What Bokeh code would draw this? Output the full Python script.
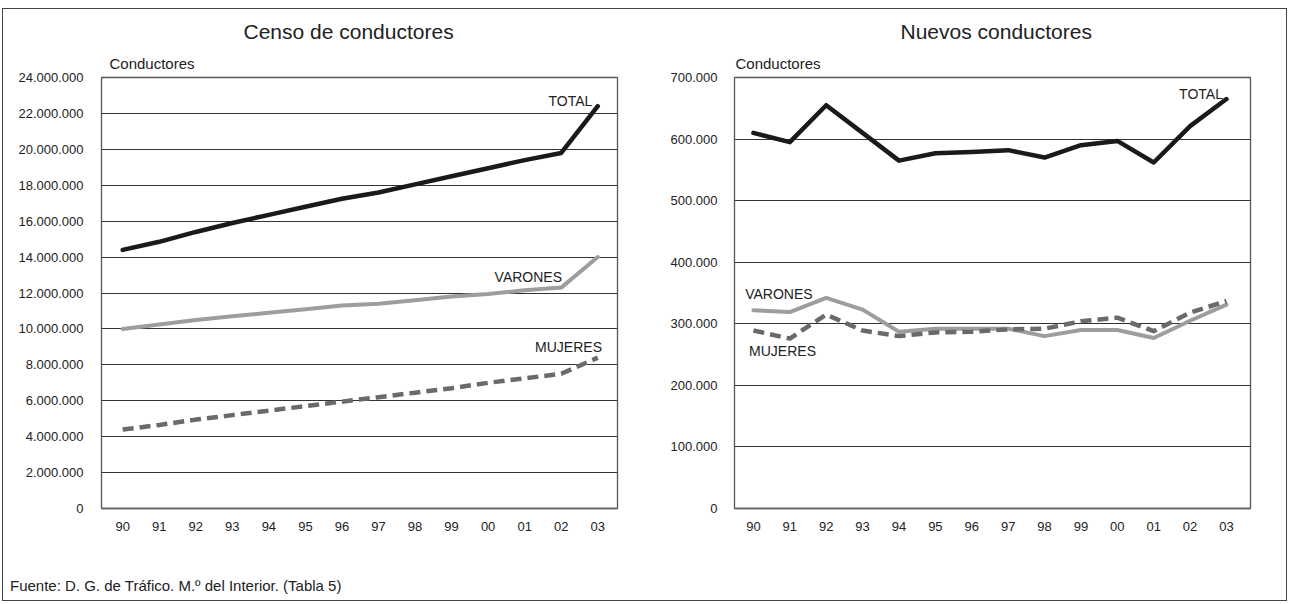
from bokeh.plotting import figure
from bokeh.models import FixedTicker, Title, Label, Div, Range1d
from bokeh.layouts import row, column
from bokeh.embed import file_html
from bokeh.resources import INLINE

years = ["90", "91", "92", "93", "94", "95", "96", "97", "98", "99", "00", "01", "02", "03"]

censo_total = [14400000, 14850000, 15400000, 15900000, 16350000, 16800000, 17250000,
               17600000, 18050000, 18500000, 18950000, 19400000, 19800000, 22400000]
censo_varones = [10000000, 10250000, 10500000, 10700000, 10900000, 11100000, 11300000,
                 11400000, 11600000, 11800000, 11950000, 12150000, 12300000, 14000000]
censo_mujeres = [4400000, 4650000, 4950000, 5200000, 5450000, 5700000, 5950000,
                 6200000, 6450000, 6700000, 7000000, 7250000, 7500000, 8400000]

nuevos_total = [610000, 595000, 655000, 610000, 565000, 577000, 579000,
                582000, 570000, 590000, 597000, 562000, 621000, 665000]
nuevos_varones = [322000, 319000, 342000, 323000, 287000, 292000, 292000,
                  292000, 280000, 290000, 290000, 277000, 305000, 331000]
nuevos_mujeres = [289000, 276000, 315000, 289000, 280000, 286000, 287000,
                  291000, 292000, 304000, 310000, 288000, 318000, 337000]

censo_ticks = [0, 2000000, 4000000, 6000000, 8000000, 10000000, 12000000,
               14000000, 16000000, 18000000, 20000000, 22000000, 24000000]
nuevos_ticks = [0, 100000, 200000, 300000, 400000, 500000, 600000, 700000]

SANS = "'Liberation Sans', Arial, sans-serif"


def fmt(v):
    return f"{v:,}".replace(",", ".")


def make_fig(title, width, height, xr, yr, ticks, bl, br, bt, bb, t_off, c_off, ystand):
    p = figure(width=width, height=height, x_range=Range1d(*xr), y_range=Range1d(*yr),
               output_backend="svg", toolbar_location=None,
               min_border_left=bl, min_border_right=br, min_border_top=bt, min_border_bottom=bb)
    p.background_fill_color = "white"
    p.border_fill_color = "white"
    p.outline_line_color = "#555555"
    p.outline_line_width = 1.3
    xs = list(range(len(years)))
    p.xaxis.ticker = FixedTicker(ticks=xs)
    p.xaxis.major_label_overrides = {i: y for i, y in zip(xs, years)}
    p.yaxis.ticker = FixedTicker(ticks=ticks)
    p.yaxis.major_label_overrides = {t: fmt(t) for t in ticks}
    for ax in (p.xaxis, p.yaxis):
        ax.major_tick_line_color = None
        ax.minor_tick_line_color = None
        ax.major_label_text_font = SANS
        ax.major_label_text_font_size = "13px"
        ax.major_label_text_color = "#222222"
    p.yaxis.axis_line_color = None
    p.xaxis.axis_line_color = "#666666"
    p.xaxis.axis_line_width = 1.5
    p.xaxis.major_label_standoff = 7
    p.yaxis.major_label_standoff = ystand
    p.xgrid.grid_line_color = None
    p.ygrid.grid_line_color = "#333333"
    p.ygrid.grid_line_width = 1
    p.ygrid.ticker = FixedTicker(ticks=ticks)

    p.add_layout(Title(text="Conductores", align="left", offset=c_off,
                       text_font=SANS, text_font_size="15px", text_font_style="normal",
                       text_color="#222222", standoff=11), "above")
    p.add_layout(Title(text=title, align="left", offset=t_off,
                       text_font=SANS, text_font_size="21px", text_font_style="normal",
                       text_color="#222222", standoff=9), "above")
    return p, xs


def add_series(p, xs, total, varones, mujeres):
    p.line(xs, total, line_color="#1a1a1a", line_width=4.5, line_join="round", line_cap="round")
    p.line(xs, varones, line_color="#9d9d9d", line_width=4, line_join="round", line_cap="round")
    p.line(xs, mujeres, line_color="#6a6a6a", line_width=4.5, line_dash="11 6", line_join="round")


def add_label(p, text, x, y):
    p.add_layout(Label(x=x, y=y, text=text, text_align="center", text_baseline="middle",
                       text_font=SANS, text_font_size="14px", text_color="#222222"))


p1, xs = make_fig("Censo de conductores", 655, 551, (-0.58, 13.54), (0, 24000000), censo_ticks,
                  98, 41, 68, 52, 142, 8, 12)
add_series(p1, xs, censo_total, censo_varones, censo_mujeres)
add_label(p1, "TOTAL", 12.25, 22700000)
add_label(p1, "VARONES", 11.1, 12900000)
add_label(p1, "MUJERES", 12.2, 9000000)

p2, xs = make_fig("Nuevos conductores", 628, 551, (-0.52, 13.66), (0, 700000), nuevos_ticks,
                  76, 36, 68, 52, 166, 1, 11)
add_series(p2, xs, nuevos_total, nuevos_varones, nuevos_mujeres)
add_label(p2, "TOTAL", 12.3, 674000)
add_label(p2, "VARONES", 0.7, 349000)
add_label(p2, "MUJERES", 0.8, 255000)

foot = Div(text="Fuente: D. G. de Tráfico. M.º del Interior. (Tabla 5)", width=1270, height=30,
           styles={"font-family": "'Liberation Sans', Arial, sans-serif", "font-size": "15px",
                   "color": "#222222", "padding-top": "10px", "padding-left": "2px"})

layout = column(row(p1, p2), foot,
                styles={"border": "1px solid #444444", "margin": "8px 0px 0px 2px",
                        "background-color": "white"})

open("out.html", "w").write(file_html(layout, INLINE))
